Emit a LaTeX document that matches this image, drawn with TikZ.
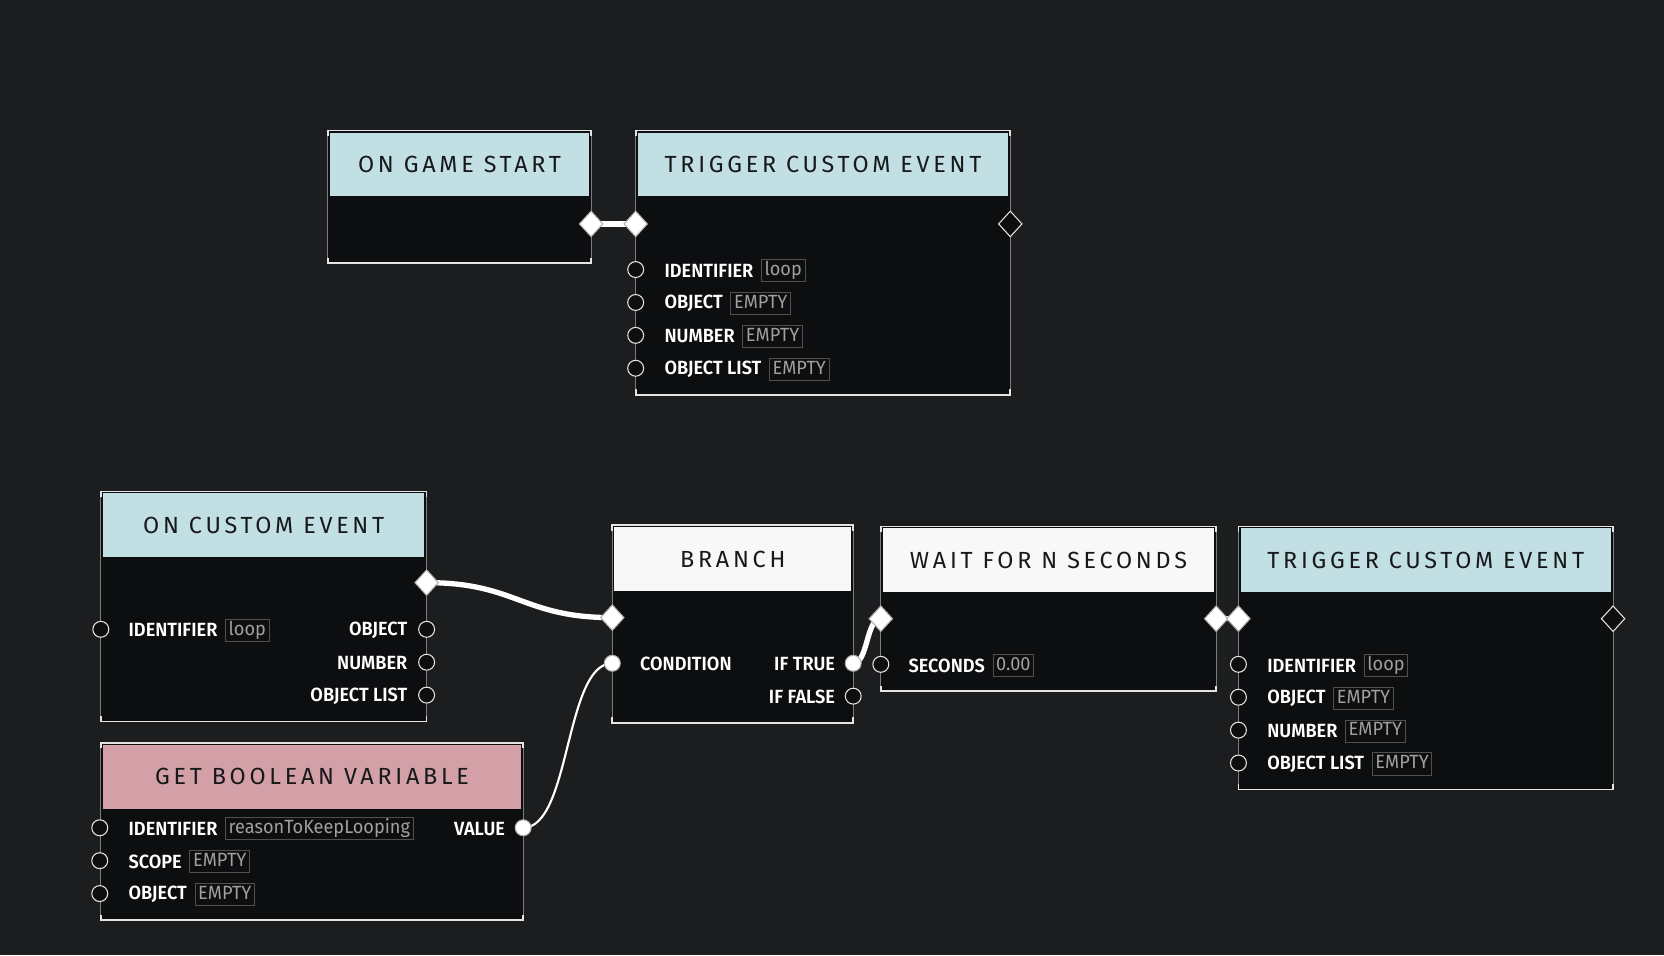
\documentclass[tikz,border=0pt]{standalone}
\usepackage{fontspec}
\setmainfont{Fira Sans}
\newfontfamily\titlefont[LetterSpace=16]{Fira Sans}
\newfontfamily\lblfont[FakeStretch=0.95]{Fira Sans SemiBold}
\newfontfamily\valfont[FakeStretch=0.95]{Fira Sans}
\usetikzlibrary{shapes.geometric,positioning}
\pgfdeclarelayer{bglayer}
\pgfdeclarelayer{connlayer}
\pgfsetlayers{bglayer,connlayer,main}
\definecolor{bgc}{HTML}{1C1D1F}
\definecolor{bodyc}{HTML}{0D0E10}
\definecolor{hblue}{HTML}{C2DFE3}
\definecolor{hwhite}{HTML}{F8F8F8}
\definecolor{hpink}{HTML}{D4A0A8}
\definecolor{sidec}{HTML}{7C7C7C}
\definecolor{edgec}{HTML}{E4E4E4}
\definecolor{valc}{HTML}{A0A0A0}
\definecolor{valboxc}{HTML}{505050}
\definecolor{titlec}{HTML}{16181A}
\definecolor{portedge}{HTML}{B0B0B0}
\tikzset{
  bodybox/.style={fill=bodyc, inner sep=0, outer sep=0, anchor=north west},
  headbox/.style={inner sep=0, outer sep=0, anchor=north, minimum height=60pt,
    font=\titlefont\fontsize{22}{26}\selectfont, text=titlec},
  edgeline/.style={draw=edgec, line width=1.6pt},
  sideline/.style={draw=sidec, line width=1pt},
  xport/.style={diamond, inner sep=0, outer sep=0, minimum width=22pt, minimum height=24pt, line width=1pt},
  xon/.style={xport, fill=white, draw=portedge},
  xoff/.style={xport, fill=bodyc, draw=edgec},
  dport/.style={circle, inner sep=0, outer sep=0, minimum size=15pt, line width=1pt},
  don/.style={dport, fill=white, draw=portedge},
  doff/.style={dport, fill=bodyc, draw=edgec},
  lbl/.style={font=\lblfont\fontsize{18}{20}\selectfont, text=white, inner sep=0},
  valbox/.style={draw=valboxc, line width=0.9pt, text=valc, font=\valfont\fontsize{18}{20}\selectfont,
    inner xsep=3pt, inner ysep=2.5pt, text height=12.5pt, text depth=3.5pt},
  flow/.style={draw=white, line width=5pt},
  data/.style={draw=white, line width=2pt}
}
\newcommand\gnode[7]{%
  \begin{pgfonlayer}{bglayer}
  \node[bodybox, minimum width={#4pt-#2pt}, minimum height={#5pt-#3pt}] (#1) at (#2,#3) {};
  \node[headbox, fill=#6, minimum width={#4pt-#2pt-4pt}] (#1-h) at ([yshift=-2pt]#1.north) {#7};
  \draw[sideline] (#1.north west) -- (#1.south west) (#1.north east) -- (#1.south east);
  \draw[edgeline] ([yshift=-5pt]#1.north west) -- (#1.north west) -- (#1.north east) -- ([yshift=-5pt]#1.north east);
  \draw[edgeline] ([yshift=5pt]#1.south west) -- (#1.south west) -- (#1.south east) -- ([yshift=5pt]#1.south east);
  \end{pgfonlayer}}
\begin{document}
\begin{tikzpicture}[x=1pt,y=-1pt]
\begin{pgfonlayer}{bglayer}
\fill[bgc] (0,0) rectangle (1568,900);
\end{pgfonlayer}
\useasboundingbox (0,0) rectangle (1568,900);

% ---------- boxes ----------
\gnode{A}{309}{123}{557}{248}{hblue}{ON GAME START}
\gnode{B}{599}{123}{952}{372}{hblue}{TRIGGER CUSTOM EVENT}
\gnode{C}{95}{463}{402}{680}{hblue}{ON CUSTOM EVENT}
\gnode{D}{577}{495}{804}{681}{hwhite}{BRANCH}
\gnode{E}{830}{496}{1146}{651}{hwhite}{WAIT FOR N SECONDS}
\gnode{F}{1167}{496}{1520}{744}{hblue}{TRIGGER CUSTOM EVENT}
\gnode{G}{95}{700}{493}{867}{hpink}{GET BOOLEAN VARIABLE}

% ---------- ports ----------
\node[xon] (A-o) at (557,211) {};
\node[xon] (B-i) at (599,211) {};
\node[xoff] (B-o) at (952,211) {};
\node[doff] (B-p1) at (599,254) {};
\node[doff] (B-p2) at (599,285) {};
\node[doff] (B-p3) at (599,316) {};
\node[doff] (B-p4) at (599,347) {};

\node[xon] (C-o) at (402,549) {};
\node[doff] (C-p1) at (95,593) {};
\node[doff] (C-q1) at (402,593) {};
\node[doff] (C-q2) at (402,624) {};
\node[doff] (C-q3) at (402,655) {};

\node[xon] (D-i) at (577,582) {};
\node[don] (D-c) at (577,625) {};
\node[don] (D-t) at (804,625) {};
\node[doff] (D-f) at (804,656) {};

\node[xon] (E-i) at (830,583) {};
\node[xon] (E-o) at (1146,583) {};
\node[doff] (E-p1) at (830,626) {};

\node[xon] (F-i) at (1167,583) {};
\node[xoff] (F-o) at (1520,583) {};
\node[doff] (F-p1) at (1167,626) {};
\node[doff] (F-p2) at (1167,657) {};
\node[doff] (F-p3) at (1167,688) {};
\node[doff] (F-p4) at (1167,719) {};

\node[doff] (G-p1) at (94,780) {};
\node[doff] (G-p2) at (94,811) {};
\node[doff] (G-p3) at (94,842) {};
\node[don] (G-v) at (493,780) {};

% ---------- labels ----------
\node[lbl, anchor=west] (B-l1) at (626,255) {IDENTIFIER};
\node[valbox, anchor=west] (B-v1) at ([xshift=7pt]B-l1.east) {loop};
\node[lbl, anchor=west] (B-l2) at (626,286) {OBJECT};
\node[valbox, anchor=west] (B-v2) at ([xshift=7pt]B-l2.east) {EMPTY};
\node[lbl, anchor=west] (B-l3) at (626,317) {NUMBER};
\node[valbox, anchor=west] (B-v3) at ([xshift=7pt]B-l3.east) {EMPTY};
\node[lbl, anchor=west] (B-l4) at (626,348) {OBJECT LIST};
\node[valbox, anchor=west] (B-v4) at ([xshift=7pt]B-l4.east) {EMPTY};

\node[lbl, anchor=west] (C-l1) at (121,594) {IDENTIFIER};
\node[valbox, anchor=west] (C-v1) at ([xshift=7pt]C-l1.east) {loop};
\node[lbl, anchor=east] (C-r1) at (384,594) {OBJECT};
\node[lbl, anchor=east] (C-r2) at (384,625) {NUMBER};
\node[lbl, anchor=east] (C-r3) at (384,656) {OBJECT LIST};

\node[lbl, anchor=west] (D-l1) at (603,626) {CONDITION};
\node[lbl, anchor=east] (D-r1) at (787,626) {IF TRUE};
\node[lbl, anchor=east] (D-r2) at (787,657) {IF FALSE};

\node[lbl, anchor=west] (E-l1) at (856,627) {SECONDS};
\node[valbox, anchor=west] (E-v1) at ([xshift=7pt]E-l1.east) {0.00};

\node[lbl, anchor=west] (F-l1) at (1194,627) {IDENTIFIER};
\node[valbox, anchor=west] (F-v1) at ([xshift=7pt]F-l1.east) {loop};
\node[lbl, anchor=west] (F-l2) at (1194,658) {OBJECT};
\node[valbox, anchor=west] (F-v2) at ([xshift=7pt]F-l2.east) {EMPTY};
\node[lbl, anchor=west] (F-l3) at (1194,689) {NUMBER};
\node[valbox, anchor=west] (F-v3) at ([xshift=7pt]F-l3.east) {EMPTY};
\node[lbl, anchor=west] (F-l4) at (1194,720) {OBJECT LIST};
\node[valbox, anchor=west] (F-v4) at ([xshift=7pt]F-l4.east) {EMPTY};

\node[lbl, anchor=west] (G-l1) at (121,781) {IDENTIFIER};
\node[valbox, anchor=west] (G-v1) at ([xshift=7pt]G-l1.east) {reasonToKeepLooping};
\node[lbl, anchor=west] (G-l2) at (121,812) {SCOPE};
\node[valbox, anchor=west] (G-v2) at ([xshift=7pt]G-l2.east) {EMPTY};
\node[lbl, anchor=west] (G-l3) at (121,843) {OBJECT};
\node[valbox, anchor=west] (G-v3) at ([xshift=7pt]G-l3.east) {EMPTY};
\node[lbl, anchor=east] (G-r1) at (476,781) {VALUE};

% ---------- connectors ----------
\begin{pgfonlayer}{connlayer}
\draw[flow] (A-o.center) -- (B-i.center);
\draw[flow] (C-o.center) .. controls +(85,0) and +(-85,0) .. (D-i.center);
\draw[data] (G-v.center) .. controls +(45,0) and +(-45,0) .. (D-c.center);
\draw[flow] (D-t.center) .. controls +(14,0) and +(-14,0) .. (E-i.center);
\draw[flow] (E-o.center) -- (F-i.center);
\end{pgfonlayer}
\end{tikzpicture}
\end{document}
